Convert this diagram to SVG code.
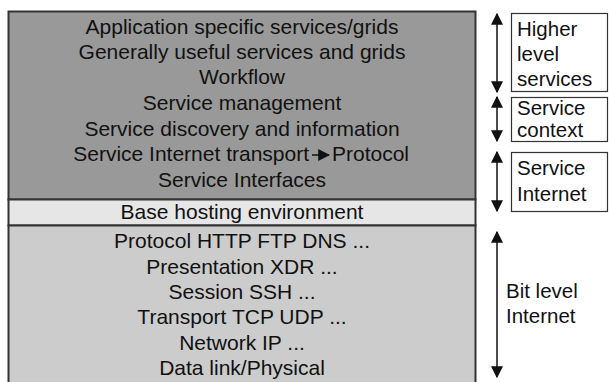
<svg xmlns="http://www.w3.org/2000/svg" width="609" height="382" viewBox="0 0 609 382">
  <defs>
    <style>
      .t { font-family: "Liberation Sans", Arial, sans-serif; font-size: 21px; fill: #111; }
      .c { text-anchor: middle; }
      .r { font-family: "Liberation Sans", Arial, sans-serif; font-size: 20.5px; fill: #111; }
      .edge { stroke: #333; stroke-width: 2; }
      .box { fill: #fff; stroke: #333; stroke-width: 1.2; }
      .ar { stroke: #111; stroke-width: 1.5; fill: none; }
    </style>
    <marker id="head" viewBox="0 0 10 10" refX="9" refY="5" markerWidth="12" markerHeight="12" markerUnits="userSpaceOnUse" orient="auto">
      <path d="M0,0 L10,5 L0,10 Z" fill="#111"/>
    </marker>
    <marker id="headS" viewBox="0 0 10 10" refX="9" refY="5" markerWidth="12" markerHeight="12" markerUnits="userSpaceOnUse" orient="auto-start-reverse">
      <path d="M0,0 L10,5 L0,10 Z" fill="#111"/>
    </marker>
  </defs>

  <rect width="609" height="382" fill="#fff"/>

  <!-- Service layers -->
  <g id="service-layers">
    <rect x="8.5" y="11.5" width="467" height="188" fill="#999999" class="edge"/>
    <text class="t c" x="242" y="34">Application specific services/grids</text>
    <text class="t c" x="242" y="59">Generally useful services and grids</text>
    <text class="t c" x="242" y="84">Workflow</text>
    <text class="t c" x="242" y="110">Service management</text>
    <text class="t c" x="242" y="136">Service discovery and information</text>
    <text class="t" x="309" y="161" text-anchor="end">Service Internet transport</text>
    <line x1="312" y1="155" x2="329" y2="155" class="ar" marker-end="url(#head)"/>
    <text class="t" x="332" y="161">Protocol</text>
    <text class="t c" x="242" y="187">Service Interfaces</text>
  </g>

  <!-- Hosting environment -->
  <g id="hosting">
    <rect x="8.5" y="199.5" width="467" height="26" fill="#e6e6e6" class="edge"/>
    <text class="t c" x="242" y="219">Base hosting environment</text>
  </g>

  <!-- Bit level layers -->
  <g id="bit-layers">
    <path d="M8.5,390 V225.5 H475.5 V390" fill="#cccccc" class="edge"/>
    <text class="t c" x="242" y="248">Protocol HTTP FTP DNS ...</text>
    <text class="t c" x="242" y="274">Presentation XDR ...</text>
    <text class="t c" x="242" y="299">Session SSH ...</text>
    <text class="t c" x="242" y="324">Transport TCP UDP ...</text>
    <text class="t c" x="242" y="350">Network IP ...</text>
    <text class="t c" x="242" y="375">Data link/Physical</text>
  </g>

  <!-- Side labels -->
  <g id="higher-level">
    <rect x="511.5" y="13.5" width="96" height="78" class="box"/>
    <text class="r" x="517" y="36">Higher</text>
    <text class="r" x="517" y="61">level</text>
    <text class="r" x="517" y="86">services</text>
  </g>
  <g id="service-context">
    <rect x="511.5" y="97.5" width="96" height="44" class="box"/>
    <text class="r" x="517" y="115">Service</text>
    <text class="r" x="517" y="137">context</text>
  </g>
  <g id="service-internet">
    <rect x="511.5" y="152.5" width="96" height="59" class="box"/>
    <text class="r" x="517" y="175">Service</text>
    <text class="r" x="517" y="201">Internet</text>
  </g>
  <g id="bit-level">
    <text class="r" x="506" y="298">Bit level</text>
    <text class="r" x="506" y="323">Internet</text>
  </g>

  <!-- Span arrows -->
  <g id="connectors">
    <line x1="497" y1="14" x2="497" y2="92" class="ar" marker-start="url(#headS)" marker-end="url(#headS)"/>
    <line x1="497" y1="97" x2="497" y2="141" class="ar" marker-start="url(#headS)" marker-end="url(#headS)"/>
    <line x1="497" y1="152" x2="497" y2="211" class="ar" marker-start="url(#headS)" marker-end="url(#headS)"/>
    <line x1="497" y1="232" x2="497" y2="377" class="ar" marker-start="url(#headS)" marker-end="url(#headS)"/>
  </g>
</svg>
